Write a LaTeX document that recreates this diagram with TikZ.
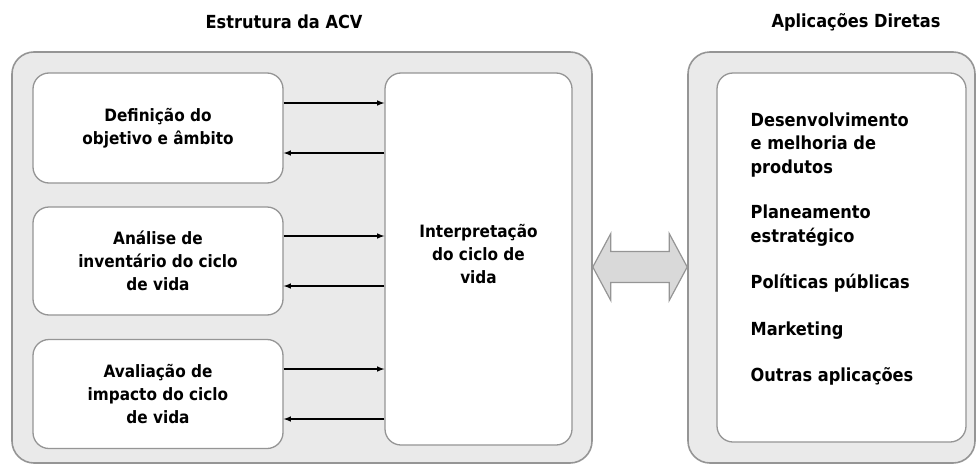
\documentclass[tikz,border=0pt]{standalone}
\usepackage{fontspec}
\setmainfont{DejaVu Sans Condensed}
\usetikzlibrary{calc}
\definecolor{framegray}{HTML}{EAEAEA}
\definecolor{linegray}{HTML}{959595}
\definecolor{arrowgray}{HTML}{D9D9D9}
\tikzset{
  frame/.style={draw=linegray,fill=framegray,line width=1.6pt,rounded corners=22pt},
  stage/.style={draw=linegray,fill=white,line width=1.3pt,rounded corners=16pt,
    align=center,font=\fontsize{17}{23}\selectfont\bfseries},
  flow/.style={-latex,line width=1.5pt,black},
  title/.style={font=\fontsize{18}{22}\selectfont\bfseries}
}
\begin{document}
\begin{tikzpicture}[x=1pt,y=-1pt]
\useasboundingbox (0,0) rectangle (978,466);
% titles
\node [title,name=tleft] at (284,22){Estrutura da ACV};
\node [title,name=tright] at (856,22){Aplica\c{c}\~oes Diretas};
% frames
\node [frame,minimum width=580pt,minimum height=411pt,name=lframe] at (302,257.5){};
\node [frame,minimum width=287pt,minimum height=411pt,name=rframe] at (831.5,257.5){};
% stages
\node [stage,minimum width=250pt,minimum height=110pt,name=def] at (158,128){Defini\c{c}\~ao do\\objetivo e \^ambito};
\node [stage,minimum width=250pt,minimum height=108pt,name=inv] at (158,261){An\'alise de\\invent\'ario do ciclo\\de vida};
\node [stage,minimum width=250pt,minimum height=109pt,name=aval] at (158,394){Avalia\c{c}\~ao de\\impacto do ciclo\\de vida};
\node [stage,minimum width=187pt,minimum height=372pt,name=interp] at (478.5,259){};
\node [stage,draw=none,fill=none,name=interptext] at (478.5,254){Interpreta\c{c}\~ao\\do ciclo de\\vida};
\node [stage,minimum width=249pt,minimum height=369pt,name=apps] at (841.5,257.5){};
\node [stage,draw=none,fill=none,align=left,anchor=north west,inner sep=0pt,
  font=\fontsize{18}{23.5}\selectfont\bfseries,name=applist] at (750,112){%
Desenvolvimento\\e melhoria de\\produtos\\[22pt]Planeamento\\estrat\'egico\\[23pt]Pol\'iticas p\'ublicas\\[23pt]Marketing\\[23pt]Outras aplica\c{c}\~oes};
% arrows to and from the interpretation
\foreach \b in {def,inv,aval}{
  \coordinate (\b-out) at ([yshift=25pt]\b.east);
  \coordinate (\b-in) at ([yshift=-25pt]\b.east);
  \draw[flow] (\b-out) -- (\b-out -| interp.west);
  \draw[flow] (\b-in -| interp.west) -- (\b-in);
}
% double arrow between the frames
\coordinate (ltip) at (lframe.east |- 0,267);
\coordinate (rtip) at (rframe.west |- 0,267);
\draw[draw=linegray,fill=arrowgray,line width=1.2pt,line join=miter]
  (ltip) -- ++(18,-33.5) -- ++(0,18) -- ($(rtip)+(-18,-15.5)$) -- ++(0,-18) -- (rtip)
  -- ++(-18,33.5) -- ++(0,-18) -- ($(ltip)+(18,15.5)$) -- ++(0,18) -- cycle;
\end{tikzpicture}
\end{document}
